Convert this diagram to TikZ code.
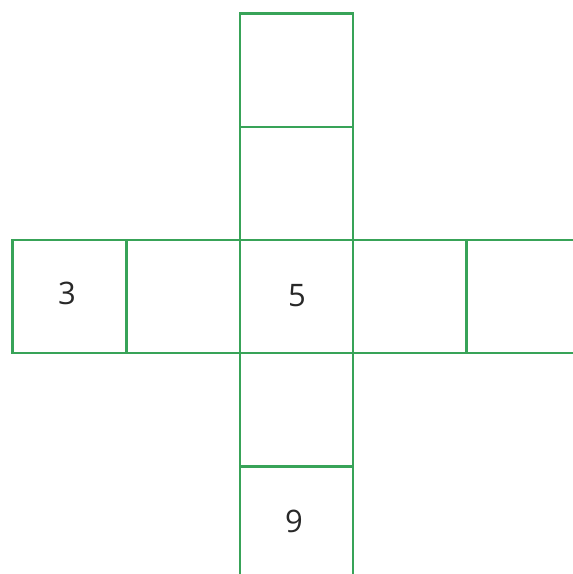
\documentclass[tikz,border=0pt]{standalone}
\usepackage{fontspec}
\setmainfont{Open Sans}
\definecolor{grn}{RGB}{56,163,88}
\definecolor{txt}{RGB}{40,40,40}
\begin{document}
\begin{tikzpicture}[x=1pt,y=-1pt,
  cellline/.style={draw=grn,line width=2.6pt},
  lbl/.style={text=txt,font=\fontsize{31}{31}\selectfont,inner sep=0pt}]
\useasboundingbox (0,0) rectangle (573,574);
% vertical column
\draw[cellline] (240,13.5) rectangle (353,127);
\draw[cellline] (240,127) rectangle (353,240);
\draw[cellline] (240,353) rectangle (353,466.5);
\draw[cellline] (240,466.5) rectangle (353,590);
% horizontal row
\draw[cellline] (12.5,240) rectangle (126.5,353);
\draw[cellline] (126.5,240) rectangle (240,353);
\draw[cellline] (240,240) rectangle (353,353);
\draw[cellline] (353,240) rectangle (466.5,353);
\draw[cellline] (466.5,240) rectangle (590,353);
% labels
\node[lbl] (three) at (67,293) {3};
\node[lbl] (five) at (297,296) {5};
\node[lbl] (nine) at (294,521) {9};
\end{tikzpicture}
\end{document}
